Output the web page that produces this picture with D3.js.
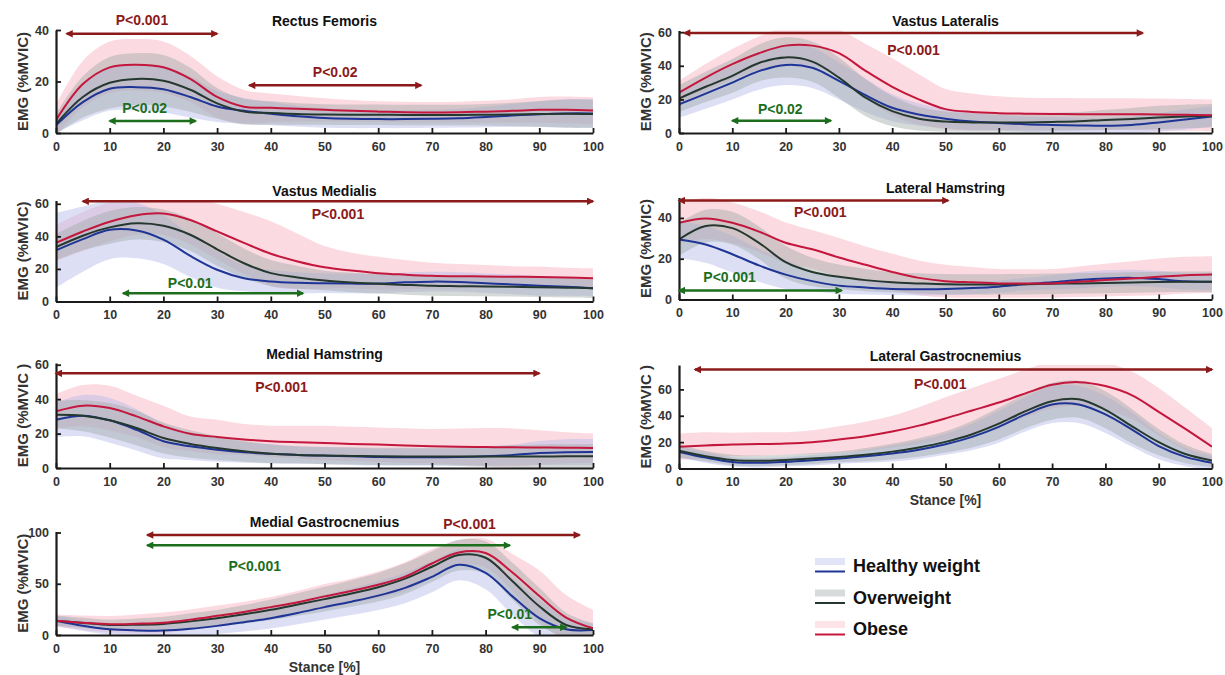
<!DOCTYPE html>
<html>
<head>
<meta charset="utf-8">
<script src="https://cdn.jsdelivr.net/npm/d3@7"></script>
<style>
body { margin: 0; background: #fff; }
text { font-family: "Liberation Sans", Arial, sans-serif; }
</style>
</head>
<body>
<div id="chart"></div>
<script>
// stance percentage at which the curves were read (every 5 %)
var stance = [0, 5, 10, 15, 20, 25, 30, 35, 40, 45, 50, 55, 60, 65, 70, 75, 80, 85, 90, 95, 100];

var groups = ["Healthy weight", "Overweight", "Obese"];

// Rectus Femoris
var rfHealthy   = [3, 12, 17.2, 17.8, 17, 14, 10.3, 8.6, 7.5, 6.5, 5.8, 5.5, 5.4, 5.4, 5.5, 5.7, 6.2, 6.8, 7.3, 7.6, 7.6];
var rfHealthySd = [3, 7, 8.5, 9, 9, 8, 6, 5, 4.5, 4, 3.8, 3.6, 3.5, 3.5, 3.5, 3.6, 4, 4.5, 5, 5.5, 5.5];
var rfOver      = [3.5, 14, 19.5, 21, 20.3, 16.8, 11.5, 8.3, 7.8, 7.4, 7.2, 7.1, 7.1, 7, 7, 7, 7.1, 7.2, 7.4, 7.5, 7.4];
var rfOverSd    = [4, 8, 10, 10, 10, 8.5, 6, 5, 4.5, 4.2, 4, 4, 4, 4, 4, 4, 4.2, 4.5, 5, 5.5, 5.5];
var rfObese     = [5, 19, 25.5, 26.5, 25.5, 21, 14, 10.2, 9.8, 9.4, 9, 8.6, 8.3, 8.1, 8, 8.1, 8.3, 8.6, 9, 9, 8.7];
var rfObeseSd   = [6, 9, 10, 10, 10, 9, 8, 6.5, 5.5, 5, 4.5, 4.2, 4, 4, 4, 4, 4.2, 4.5, 5, 5.2, 5.2];

// Vastus Lateralis
var vlHealthy   = [17, 23.4, 30, 36.8, 40.5, 38.8, 31, 22.5, 15, 11, 8.5, 6.8, 6, 5.2, 4.8, 4.5, 4.3, 4.8, 6.3, 8, 9.8];
var vlHealthySd = [8, 9, 10, 11, 12, 12, 11, 10, 8, 6.5, 5.5, 5, 4.5, 4.5, 4.5, 4.5, 4.5, 5, 5.5, 6, 6];
var vlOver      = [20.5, 27.5, 34, 41.7, 45, 42.5, 33, 21, 13, 8.5, 6.8, 6.3, 6.2, 6.3, 6.6, 7, 7.8, 8.4, 9.2, 9.8, 10.2];
var vlOverSd    = [8, 9, 10, 11, 12, 12, 12, 11, 9, 7, 6, 5.5, 5.5, 5.5, 5.5, 5.5, 6, 6.5, 7, 7, 7];
var vlObese     = [24, 33, 41, 47.5, 52, 52, 47.5, 37, 27.5, 20, 14.2, 12.5, 11.8, 11.5, 11.3, 11.2, 11.2, 11.2, 11, 10.8, 10.5];
var vlObeseSd   = [7, 8, 9, 10, 11, 12, 14, 16, 17, 15, 12, 11, 10, 9.5, 9.5, 9.5, 9.5, 9.5, 9.5, 9.5, 9.5];

// Vastus Medialis
var vmHealthy   = [31.4, 38.3, 44, 43.6, 38, 28, 19.5, 14.3, 12.3, 11.5, 11.2, 11, 11, 11.8, 12.2, 12, 11.2, 10.5, 9.6, 9, 8.2];
var vmHealthySd = [23, 20, 18, 17, 15, 13, 11, 8, 7, 6.5, 6, 6, 6, 6, 6, 6, 6, 6, 6, 5.5, 5];
var vmOver      = [33.4, 40.4, 45.5, 48, 46.5, 41, 32, 23.5, 17.4, 14.8, 12.9, 11.7, 10.9, 10.2, 9.6, 9.4, 9.2, 9, 8.8, 8.5, 8.2];
var vmOverSd    = [8, 9, 10, 10, 10, 10, 10, 9, 8, 7, 6, 6, 6, 6, 6, 6, 6, 6, 6, 6, 6];
var vmObese     = [36, 43, 49, 53, 54, 50, 43, 36, 29.3, 24.6, 21, 19, 17.4, 16.5, 15.8, 15.5, 15.4, 15.2, 15, 14.7, 14.3];
var vmObeseSd   = [11, 12, 12, 12, 13, 15, 17, 19, 20, 17, 13, 11, 10, 9, 8, 7.5, 7, 6.5, 6.5, 6, 6];

// Lateral Hamstring
var lhHealthy   = [29.4, 27, 22.2, 16.7, 12.2, 9, 6.8, 5.9, 5.2, 5, 5.2, 5.6, 6.3, 7.5, 8.4, 9.5, 10.3, 10.6, 10, 8.9, 8.7];
var lhHealthySd = [9, 9, 9, 8, 7, 5, 4, 3.5, 3, 3, 3, 3, 3, 3, 3.5, 4, 4, 4, 4, 4, 4];
var lhOver      = [29.4, 36, 35, 27.8, 18.3, 13.5, 11.1, 9.5, 8.4, 7.9, 7.5, 7.4, 7.4, 7.5, 7.7, 7.9, 8.1, 8.3, 8.6, 8.7, 8.7];
var lhOverSd    = [8, 8, 8, 8, 8, 7, 6, 5.5, 5, 5, 5, 5, 5, 5, 5, 5, 5, 5, 5, 5, 5];
var lhObese     = [37.6, 39.7, 37.6, 33.3, 27.8, 24.6, 20.6, 17, 13.5, 10.6, 9, 8.4, 7.9, 7.8, 7.9, 8.7, 9.5, 10.3, 11.1, 11.9, 12.2];
var lhObeseSd   = [10, 10, 10, 10, 10, 9.5, 9.5, 9, 9, 8.5, 8, 7.5, 7, 7, 7, 7.5, 8, 8.5, 9, 9, 9];

// Medial Hamstring
var mhHealthy   = [28, 30.4, 27.7, 22.2, 15.5, 12.6, 10.6, 9.1, 8.3, 7.6, 7.2, 6.8, 6.4, 6.3, 6.3, 6.4, 6.8, 7.5, 8.7, 9.2, 9.3];
var mhHealthySd = [10, 12, 13, 12, 10, 8, 7, 6, 5.5, 5, 5, 5, 5, 5, 5, 5, 5.5, 6, 7, 7.5, 7.5];
var mhOver      = [31, 30.4, 27.7, 23.2, 17.4, 14, 11.6, 9.7, 8.3, 7.6, 7.2, 7, 6.8, 6.7, 6.7, 6.7, 6.7, 6.7, 6.7, 6.8, 6.8];
var mhOverSd    = [8, 9, 10, 10, 9, 8, 7, 6, 5.5, 5, 5, 5, 5, 5, 5, 5.5, 6, 6.5, 7, 7, 7];
var mhObese     = [32.9, 36.2, 34.8, 30, 24.2, 19.9, 18, 16.6, 15.6, 15, 14.5, 14, 13.6, 13.1, 12.7, 12.4, 12.2, 12, 11.9, 11.8, 11.6];
var mhObeseSd   = [10, 12, 13, 12, 12, 10, 10, 9, 9, 9.5, 10, 10, 10, 10, 10, 10.5, 11, 11, 10, 9, 8.5];

// Lateral Gastrocnemius
var lgHealthy   = [12.6, 8.3, 5, 4.3, 5, 6.2, 7.6, 9.3, 11.4, 14.3, 18.4, 24, 31.6, 41, 48.5, 48.5, 41, 29.5, 17, 8.8, 4.3];
var lgHealthySd = [4, 4, 3.5, 3.5, 3.5, 4, 4, 5, 6, 7, 8, 10, 12, 13, 14, 14, 14, 13, 10, 7, 5];
var lgOver      = [13.4, 9.3, 6.5, 5.8, 6.5, 7.5, 8.8, 10.5, 12.8, 16, 20.2, 26, 34, 43.5, 51, 52.5, 44.5, 32, 20, 11, 6];
var lgOverSd    = [5, 4, 4, 4, 4, 4, 4, 5, 6, 7, 8, 10, 12, 13, 14, 14, 14, 13, 10, 7, 5];
var lgObese     = [16.5, 17.5, 18.2, 18.5, 19, 20, 22, 24.5, 28, 32.5, 38, 44, 50, 57, 63.5, 65.5, 62.5, 55.5, 43, 30, 16.5];
var lgObeseSd   = [10, 10, 9, 9, 8.5, 9, 10, 11, 12, 14, 16, 17, 18, 18, 18, 18, 18, 18, 18, 16, 14];

// Medial Gastrocnemius
var mgHealthy   = [14, 9, 5.6, 4.5, 4.3, 6, 8.9, 12.5, 16.4, 21.5, 27.2, 32.5, 38.4, 46, 56.7, 68.5, 60.7, 37.7, 16.4, 5.6, 4.9];
var mgHealthySd = [5, 5, 5, 6, 7, 8, 8, 9, 10, 11, 12, 13, 14, 15, 15, 15, 16, 18, 18, 12, 6];
var mgOver      = [14, 11.8, 9.8, 10, 10.8, 13.3, 16.4, 20.2, 24.6, 29.7, 35, 40.5, 46.6, 55, 66.6, 78, 75.4, 52.5, 28, 9.8, 5.6];
var mgOverSd    = [5, 5, 5, 6, 7, 8, 8, 9, 10, 11, 12, 13, 14, 15, 15, 15, 16, 18, 18, 12, 6];
var mgObese     = [14, 12, 10.5, 11, 12, 15, 18.7, 22.5, 27.2, 32, 37.7, 43, 49, 57, 69.8, 80.5, 80, 61, 38, 17, 6.5];
var mgObeseSd   = [6, 7, 8, 9, 10, 10, 10, 10, 10, 11, 12, 12, 13, 14, 14, 12, 14, 18, 25, 22, 18];

// significant intervals: [from, to, y value, label, colour key, label x, label y]
var rfSig = [[2, 30, 38.5, "P<0.001", "red", 16, 44], [36, 68, 18.5, "P<0.02", "red", 52, 23.5], [10, 26, 4.7, "P<0.02", "green", 16.5, 9.5]];
var vlSig = [[1, 87, 59.5, "P<0.001", "red", 44, 49.5], [10, 28.5, 7.3, "P<0.02", "green", 19, 14.5]];
var vmSig = [[5, 100, 61.5, "P<0.001", "red", 52.5, 53.5], [12.5, 46, 5.1, "P<0.01", "green", 25, 11]];
var lhSig = [[0, 50.5, 48.5, "P<0.001", "red", 26.5, 43], [0, 30.5, 4.4, "P<0.001", "green", 9.5, 11]];
var mhSig = [[0, 90, 55, "P<0.001", "red", 42, 47]];
var lgSig = [[3, 100, 75, "P<0.001", "red", 49, 64]];
var mgSig = [[17, 97.5, 97.5, "P<0.001", "red", 77, 108], [17, 84.5, 87.5, "P<0.001", "green", 37, 67], [85, 95, 7.5, "P<0.01", "green", 84.5, 20.5]];

var muscles = [
  {title: "Rectus Femoris", yTicks: [0, 20, 40], yMax: 40, series: [rfHealthy, rfHealthySd, rfOver, rfOverSd, rfObese, rfObeseSd], sig: rfSig, yLabel: "EMG (%MVIC)"},
  {title: "Vastus Lateralis", yTicks: [0, 20, 40, 60], yMax: 61, series: [vlHealthy, vlHealthySd, vlOver, vlOverSd, vlObese, vlObeseSd], sig: vlSig, yLabel: "EMG (%MVIC)"},
  {title: "Vastus Medialis", yTicks: [0, 20, 40, 60], yMax: 62, series: [vmHealthy, vmHealthySd, vmOver, vmOverSd, vmObese, vmObeseSd], sig: vmSig, yLabel: "EMG (%MVIC)"},
  {title: "Lateral Hamstring", yTicks: [0, 20, 40], yMax: 50, series: [lhHealthy, lhHealthySd, lhOver, lhOverSd, lhObese, lhObeseSd], sig: lhSig, yLabel: "EMG (%MVIC)"},
  {title: "Medial Hamstring", yTicks: [0, 20, 40, 60], yMax: 61, series: [mhHealthy, mhHealthySd, mhOver, mhOverSd, mhObese, mhObeseSd], sig: mhSig, yLabel: "EMG (%MVIC )"},
  {title: "Lateral Gastrocnemius", yTicks: [0, 20, 40, 60], yMax: 78.5, series: [lgHealthy, lgHealthySd, lgOver, lgOverSd, lgObese, lgObeseSd], sig: lgSig, yLabel: "EMG (%MVIC )", xLabel: true},
  {title: "Medial Gastrocnemius", yTicks: [0, 50, 100], yMax: 101, series: [mgHealthy, mgHealthySd, mgOver, mgOverSd, mgObese, mgObeseSd], sig: mgSig, yLabel: "EMG (%MVIC)", xLabel: true}
];

// pixel box of every panel: left, right, top (y of yMax), bottom (y of 0)
var layout = [
  {left: 56, right: 593, top: 30, bottom: 133},
  {left: 679, right: 1212, top: 30.5, bottom: 133},
  {left: 56, right: 593, top: 200.5, bottom: 301.5},
  {left: 679, right: 1212, top: 197.5, bottom: 299.5},
  {left: 56, right: 593, top: 363, bottom: 468},
  {left: 679, right: 1212, top: 365, bottom: 468.5},
  {left: 56, right: 593, top: 531.5, bottom: 635}
];

var colors = [
  {line: "#1f3596", band: "#b3b8e8", op: 0.45},
  {line: "#25382f", band: "#9aa6a4", op: 0.42},
  {line: "#c3173d", band: "#f8bcc8", op: 0.55}
];
var sigColors = {red: "#8c1a1a", green: "#1c6e1c"};

var svg = d3.select("#chart")
  .append("svg")
  .attr("width", 1225)
  .attr("height", 675);

var defs = svg.append("defs");
Object.keys(sigColors).forEach(function(k) {
  defs.append("marker")
    .attr("id", "arrow-" + k)
    .attr("viewBox", "0 0 10 10")
    .attr("refX", 8)
    .attr("refY", 5)
    .attr("markerWidth", 3.6)
    .attr("markerHeight", 3)
    .attr("orient", "auto-start-reverse")
    .append("path")
    .attr("d", "M0,0 L10,5 L0,10 z")
    .attr("fill", sigColors[k]);
});

muscles.forEach(function(m, i) {
  var box = layout[i];
  var x = d3.scaleLinear().domain([0, 100]).range([box.left, box.right]);
  var y = d3.scaleLinear().domain([0, m.yMax]).range([box.bottom, box.top]);

  var g = svg.append("g");

  defs.append("clipPath").attr("id", "clip" + i)
    .append("rect")
    .attr("x", box.left).attr("y", box.top)
    .attr("width", box.right - box.left).attr("height", box.bottom - box.top);

  var plot = g.append("g").attr("clip-path", "url(#clip" + i + ")");

  // bands (obese first, underneath)
  [2, 0, 1].forEach(function(k) {
    var mean = m.series[k * 2], sd = m.series[k * 2 + 1];
    var area = d3.area()
      .x(function(d, j) { return x(stance[j]); })
      .y0(function(d, j) { return y(mean[j] - sd[j]); })
      .y1(function(d, j) { return y(mean[j] + sd[j]); })
      .curve(d3.curveCatmullRom);
    plot.append("path")
      .datum(mean)
      .attr("d", area)
      .attr("fill", colors[k].band)
      .attr("fill-opacity", colors[k].op);
  });

  // mean lines
  [0, 1, 2].forEach(function(k) {
    var line = d3.line()
      .x(function(d, j) { return x(stance[j]); })
      .y(function(d) { return y(d); })
      .curve(d3.curveCatmullRom);
    plot.append("path")
      .datum(m.series[k * 2])
      .attr("d", line)
      .attr("fill", "none")
      .attr("stroke", colors[k].line)
      .attr("stroke-width", 2);
  });

  // axes
  var xAxis = g.append("g")
    .attr("transform", "translate(0," + box.bottom + ")")
    .call(d3.axisBottom(x).tickValues(d3.range(0, 101, 10)).tickSizeInner(-5).tickSizeOuter(0).tickPadding(9));
  var yAxis = g.append("g")
    .attr("transform", "translate(" + box.left + ",0)")
    .call(d3.axisLeft(y).tickValues(m.yTicks).tickSizeInner(-5).tickSizeOuter(0).tickPadding(7));

  [xAxis, yAxis].forEach(function(a) {
    a.select(".domain").attr("stroke", "#1a1a1a").attr("stroke-width", 2.2);
    a.selectAll(".tick line").attr("stroke", "#1a1a1a").attr("stroke-width", 1.8);
    a.selectAll(".tick text")
      .attr("font-family", "Liberation Sans, Arial, sans-serif")
      .attr("font-size", 12.5)
      .attr("font-weight", "bold")
      .attr("fill", "#333");
  });

  // title
  g.append("text")
    .attr("x", (box.left + box.right) / 2)
    .attr("y", box.top - 9)
    .attr("dy", "0.35em")
    .attr("text-anchor", "middle")
    .attr("font-size", 14)
    .attr("font-weight", "bold")
    .attr("fill", "#111")
    .text(m.title);

  // y label
  g.append("text")
    .attr("transform", "translate(" + (box.left - 33) + "," + ((box.top + box.bottom) / 2) + ")rotate(-90)")
    .attr("dy", "0.35em")
    .attr("text-anchor", "middle")
    .attr("font-size", 15)
    .attr("font-weight", "bold")
    .attr("fill", "#333")
    .text(m.yLabel);

  if (m.xLabel) {
    g.append("text")
      .attr("x", (box.left + box.right) / 2)
      .attr("y", box.bottom + 32)
      .attr("dy", "0.35em")
      .attr("text-anchor", "middle")
      .attr("font-size", 14)
      .attr("font-weight", "bold")
      .attr("fill", "#333")
      .text("Stance [%]");
  }

  // significance arrows
  m.sig.forEach(function(s) {
    g.append("line")
      .attr("x1", x(s[0])).attr("x2", x(s[1]))
      .attr("y1", y(s[2])).attr("y2", y(s[2]))
      .attr("stroke", sigColors[s[4]])
      .attr("stroke-width", 2.5)
      .attr("marker-start", "url(#arrow-" + s[4] + ")")
      .attr("marker-end", "url(#arrow-" + s[4] + ")");
    g.append("text")
      .attr("x", x(s[5]))
      .attr("y", y(s[6]))
      .attr("dy", "0.35em")
      .attr("text-anchor", "middle")
      .attr("font-size", 14)
      .attr("font-weight", "bold")
      .attr("fill", sigColors[s[4]])
      .text(s[3]);
  });
});

// legend
var legend = svg.append("g").attr("transform", "translate(815,566)");
groups.forEach(function(name, k) {
  var row = legend.append("g").attr("transform", "translate(0," + (k * 31.5) + ")");
  row.append("rect")
    .attr("x", 0).attr("y", -8)
    .attr("width", 30).attr("height", 7)
    .attr("fill", colors[k].band)
    .attr("fill-opacity", 0.4);
  row.append("line")
    .attr("x1", 0).attr("x2", 30)
    .attr("y1", 5.5).attr("y2", 5.5)
    .attr("stroke", colors[k].line)
    .attr("stroke-width", 2);
  row.append("text")
    .attr("x", 38)
    .attr("y", 0)
    .attr("dy", "0.35em")
    .attr("font-size", 18)
    .attr("font-weight", "bold")
    .attr("fill", "#111")
    .text(name);
});
</script>
</body>
</html>
